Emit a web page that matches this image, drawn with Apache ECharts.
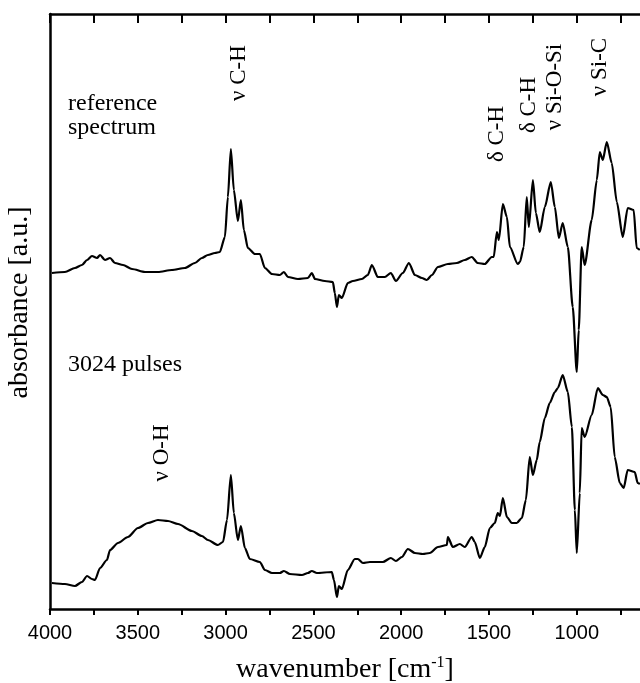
<!DOCTYPE html>
<html>
<head>
<meta charset="utf-8">
<script src="https://cdn.jsdelivr.net/npm/echarts@6/dist/echarts.min.js"></script>
<style>
  html, body { margin: 0; padding: 0; background: #fff; }
  #chart { width: 640px; height: 683px; }
</style>
</head>
<body>
<div id="chart"></div>
<script>
// reference spectrum (wavenumber in cm-1, absorbance in a.u.)
const refWavenumber = [3989, 3915, 3858, 3818, 3789, 3761, 3732, 3715, 3687, 3658, 3630, 3584, 3533, 3459, 3385, 3306, 3232, 3175, 3135, 3101,
  3061, 3033, 3004, 2987, 2970, 2953, 2930, 2913, 2896, 2873, 2833, 2805, 2776, 2736, 2691, 2668, 2645, 2588, 2531, 2509,
  2491, 2435, 2389, 2378, 2366, 2355, 2338, 2304, 2275, 2224, 2190, 2167, 2133, 2093, 2059, 2030, 1991, 1956, 1922, 1882,
  1854, 1825, 1791, 1734, 1683, 1638, 1598, 1564, 1524, 1484, 1473, 1455, 1444, 1421, 1398, 1381, 1336, 1324, 1302, 1285,
  1273, 1250, 1233, 1211, 1182, 1148, 1125, 1102, 1080, 1051, 1023, 1000, 989, 972, 955, 915, 886, 869, 852, 829,
  801, 772, 738, 710, 676, 659, 641]
const refAbs = [3.36, 3.37, 3.41, 3.44, 3.49, 3.53, 3.51, 3.54, 3.49, 3.51, 3.46, 3.44, 3.40, 3.37, 3.37, 3.39, 3.41, 3.46, 3.51, 3.54,
  3.56, 3.57, 3.72, 4.12, 4.60, 4.19, 3.88, 4.09, 3.79, 3.61, 3.55, 3.55, 3.41, 3.35, 3.34, 3.37, 3.32, 3.30, 3.31, 3.36,
  3.30, 3.28, 3.27, 3.16, 3.02, 3.14, 3.11, 3.26, 3.28, 3.30, 3.34, 3.44, 3.32, 3.32, 3.36, 3.28, 3.36, 3.46, 3.34, 3.31,
  3.29, 3.34, 3.42, 3.45, 3.46, 3.49, 3.52, 3.46, 3.45, 3.52, 3.52, 3.77, 3.69, 4.05, 3.92, 3.62, 3.45, 3.47, 3.62, 4.12,
  3.82, 4.29, 3.96, 3.77, 4.02, 4.27, 4.02, 3.71, 3.86, 3.62, 3.02, 2.37, 2.79, 3.62, 3.44, 3.89, 4.29, 4.57, 4.49, 4.67,
  4.46, 4.07, 3.72, 4.01, 3.99, 3.61, 3.59]

// after 3024 pulses
const pulseWavenumber = [3989, 3915, 3858, 3818, 3789, 3761, 3744, 3715, 3676, 3658, 3613, 3556, 3499, 3442, 3385, 3328, 3271, 3192, 3135, 3101,
  3044, 3015, 2992, 2970, 2953, 2930, 2913, 2890, 2862, 2805, 2776, 2736, 2691, 2668, 2634, 2565, 2531, 2509, 2480, 2395,
  2383, 2366, 2355, 2338, 2304, 2264, 2247, 2218, 2178, 2150, 2104, 2059, 2030, 1996, 1962, 1922, 1877, 1837, 1791, 1740,
  1734, 1706, 1666, 1638, 1598, 1581, 1552, 1524, 1495, 1467, 1450, 1438, 1421, 1398, 1370, 1342, 1313, 1290, 1268, 1250,
  1228, 1211, 1182, 1154, 1125, 1108, 1080, 1051, 1028, 1011, 1000, 983, 972, 955, 915, 880, 852, 829, 807, 784,
  755, 733, 710, 670, 653, 641]
const pulseAbs = [0.26, 0.25, 0.23, 0.27, 0.33, 0.30, 0.29, 0.41, 0.49, 0.59, 0.66, 0.72, 0.81, 0.86, 0.89, 0.88, 0.85, 0.78, 0.73, 0.69,
  0.64, 0.67, 0.89, 1.34, 0.96, 0.69, 0.83, 0.61, 0.50, 0.47, 0.39, 0.36, 0.36, 0.38, 0.35, 0.34, 0.36, 0.38, 0.36, 0.37,
  0.29, 0.12, 0.23, 0.20, 0.39, 0.50, 0.50, 0.46, 0.47, 0.47, 0.47, 0.51, 0.48, 0.52, 0.60, 0.56, 0.55, 0.56, 0.62, 0.64,
  0.72, 0.62, 0.65, 0.62, 0.72, 0.67, 0.51, 0.62, 0.81, 0.86, 0.96, 0.93, 1.11, 0.92, 0.86, 0.86, 0.91, 1.09, 1.52, 1.34,
  1.49, 1.67, 1.91, 2.06, 2.17, 2.21, 2.34, 2.17, 1.82, 0.99, 0.56, 1.16, 1.81, 1.72, 1.94, 2.21, 2.14, 2.12, 2.02, 1.52,
  1.26, 1.21, 1.39, 1.37, 1.26, 1.25]

const labelTicks = [1000, 1500, 2000, 2500, 3000, 3500, 4000]
const minorTicks = [750, 1000, 1250, 1500, 1750, 2000, 2250, 2500, 2750, 3000, 3250, 3500, 3750, 4000]

const serif = '"Liberation Serif", "Times New Roman", serif'
const sans = '"Liberation Sans", Arial, sans-serif'

function zip(xs, ys) {
  return xs.map((x, i) => [x, ys[i]])
}

// rotated peak labels
function peakLabel(text, x, y) {
  return {
    type: 'text',
    x: x,
    y: y,
    rotation: Math.PI / 2,
    style: {
      text: text,
      font: '23px ' + serif,
      fill: '#000',
      align: 'center',
      verticalAlign: 'middle'
    }
  }
}

function plainLabel(text, x, y) {
  return {
    type: 'text',
    x: x,
    y: y,
    style: {
      text: text,
      font: '24px ' + serif,
      fill: '#000',
      align: 'left',
      verticalAlign: 'middle'
    }
  }
}

const chart = echarts.init(document.getElementById('chart'))

const axisLine = { show: true, lineStyle: { color: '#000', width: 2.5 } }

const option = {
  animation: false,
  grid: { left: 50, right: 0, top: 14, bottom: 74, outerBoundsMode: 'none', containLabel: false },
  xAxis: [
    {
      type: 'value',
      position: 'bottom',
      min: 640,
      max: 4000,
      inverse: true,
      axisLine: axisLine,
      splitLine: { show: false },
      axisTick: {
        show: true, inside: false, length: 6,
        customValues: minorTicks,
        lineStyle: { color: '#000', width: 2 }
      },
      axisLabel: {
        customValues: labelTicks,
        formatter: (v) => String(v),
        margin: 14,
        color: '#000',
        fontSize: 20,
        fontFamily: sans
      },
      name: 'wavenumber [cm{sup|-1}]',
      nameLocation: 'middle',
      nameGap: 46,
      nameTextStyle: {
        color: '#000',
        fontSize: 28,
        fontFamily: serif,
        rich: {
          sup: { fontSize: 16, fontFamily: serif, color: '#000', verticalAlign: 'top', padding: [0, 0, 14, 0] }
        }
      }
    },
    {
      type: 'value',
      position: 'top',
      min: 640,
      max: 4000,
      inverse: true,
      axisLine: axisLine,
      splitLine: { show: false },
      axisTick: {
        show: true, inside: true, length: 9,
        customValues: minorTicks,
        lineStyle: { color: '#000', width: 2 }
      },
      axisLabel: { show: false }
    }
  ],
  yAxis: {
    type: 'value',
    min: 0,
    max: 5.95,
    axisLine: axisLine,
    axisTick: { show: false },
    axisLabel: { show: false },
    splitLine: { show: false },
    name: 'absorbance [a.u.]',
    nameLocation: 'middle',
    nameGap: 16,
    nameTextStyle: {
      color: '#000',
      fontSize: 28,
      fontFamily: serif,
      padding: [0, 0, 0, 18]
    }
  },
  series: [
    {
      name: 'reference spectrum',
      type: 'line',
      xAxisIndex: 0,
      showSymbol: false,
      smooth: 0.25,
      smoothMonotone: 'x',
      data: zip(refWavenumber, refAbs),
      lineStyle: { color: '#000', width: 2.2 }
    },
    {
      name: '3024 pulses',
      type: 'line',
      xAxisIndex: 0,
      showSymbol: false,
      smooth: 0.25,
      smoothMonotone: 'x',
      data: zip(pulseWavenumber, pulseAbs),
      lineStyle: { color: '#000', width: 2.2 }
    }
  ],
  graphic: [
    plainLabel('reference', 68, 104),
    plainLabel('spectrum', 68, 128),
    plainLabel('3024 pulses', 68, 365),
    peakLabel('ν C-H', 239, 73),
    peakLabel('δ C-H', 497, 134),
    peakLabel('δ C-H', 529, 105),
    peakLabel('ν Si-O-Si', 555, 87),
    peakLabel('ν Si-C', 600, 67),
    peakLabel('ν O-H', 162, 453)
  ]
}

chart.setOption(option)
</script>
</body>
</html>
